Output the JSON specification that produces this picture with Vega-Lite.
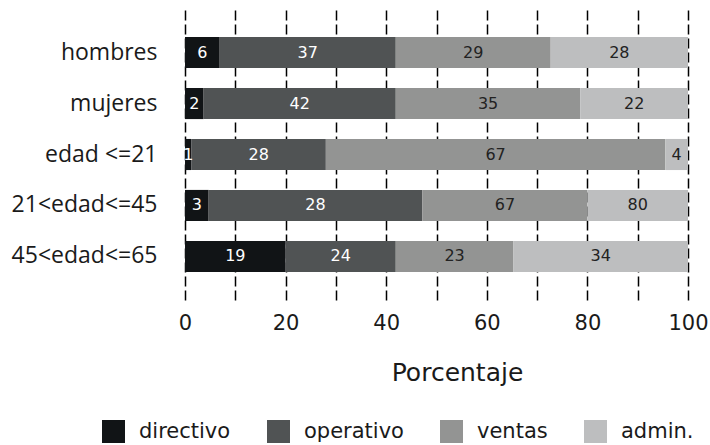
{
  "$schema": "https://vega.github.io/schema/vega-lite/v6.json",
  "autosize": {"type": "none"},
  "width": 503,
  "height": 291,
  "padding": {"left": 185, "top": 9, "right": 22, "bottom": 145},
  "background": "white",
  "config": {
    "view": {"stroke": null},
    "font": "DejaVu Sans",
    "text": {"font": "DejaVu Sans"}
  },
  "data": {
    "values": [
      {"group": "hombres", "cat": "directivo", "pct": 6.9, "label": "6"},
      {"group": "hombres", "cat": "operativo", "pct": 35.0, "label": "37"},
      {"group": "hombres", "cat": "ventas", "pct": 30.8, "label": "29"},
      {"group": "hombres", "cat": "admin.", "pct": 27.3, "label": "28"},
      {"group": "mujeres", "cat": "directivo", "pct": 3.7, "label": "2"},
      {"group": "mujeres", "cat": "operativo", "pct": 38.2, "label": "42"},
      {"group": "mujeres", "cat": "ventas", "pct": 36.7, "label": "35"},
      {"group": "mujeres", "cat": "admin.", "pct": 21.4, "label": "22"},
      {"group": "edad <=21", "cat": "directivo", "pct": 1.3, "label": "1"},
      {"group": "edad <=21", "cat": "operativo", "pct": 26.7, "label": "28"},
      {"group": "edad <=21", "cat": "ventas", "pct": 67.5, "label": "67"},
      {"group": "edad <=21", "cat": "admin.", "pct": 4.5, "label": "4"},
      {"group": "21<edad<=45", "cat": "directivo", "pct": 4.7, "label": "3"},
      {"group": "21<edad<=45", "cat": "operativo", "pct": 42.5, "label": "28"},
      {"group": "21<edad<=45", "cat": "ventas", "pct": 32.8, "label": "67"},
      {"group": "21<edad<=45", "cat": "admin.", "pct": 20.0, "label": "80"},
      {"group": "45<edad<=65", "cat": "directivo", "pct": 20.0, "label": "19"},
      {"group": "45<edad<=65", "cat": "operativo", "pct": 21.9, "label": "24"},
      {"group": "45<edad<=65", "cat": "ventas", "pct": 23.4, "label": "23"},
      {"group": "45<edad<=65", "cat": "admin.", "pct": 34.7, "label": "34"}
    ]
  },
  "transform": [
    {"calculate": "indexof(['directivo','operativo','ventas','admin.'], datum.cat)", "as": "ord"},
    {"stack": "pct", "groupby": ["group"], "sort": [{"field": "ord", "order": "ascending"}], "as": ["x0", "x1"]},
    {"calculate": "(datum.x0 + datum.x1) / 2", "as": "mid"}
  ],
  "encoding": {
    "y": {
      "field": "group",
      "type": "nominal",
      "sort": ["hombres", "mujeres", "edad <=21", "21<edad<=45", "45<edad<=65"],
      "scale": {"paddingInner": 0.39, "paddingOuter": 0.55},
      "axis": {
        "title": null,
        "domain": false,
        "ticks": false,
        "labelPadding": 28,
        "labelFontSize": 23,
        "labelColor": "#1a1a1a",
        "labelFont": "Open Sans",
        "labelLimit": 300
      }
    }
  },
  "layer": [
    {
      "mark": {"type": "bar"},
      "encoding": {
        "x": {
          "field": "x0",
          "type": "quantitative",
          "scale": {"domain": [0, 100], "nice": false},
          "axis": {
            "values": [0, 10, 20, 30, 40, 50, 60, 70, 80, 90, 100],
            "labelExpr": "datum.value % 20 === 0 ? datum.label : ''",
            "grid": true,
            "gridDash": [10, 4],
            "gridColor": "#000000",
            "gridWidth": 1.5,
            "gridOpacity": 1,
            "domain": false,
            "ticks": false,
            "labelPadding": 12,
            "labelFontSize": 21,
            "labelColor": "#1a1a1a",
            "labelFont": "DejaVu Sans",
            "labelFlush": false,
            "title": "Porcentaje",
            "titleFont": "DejaVu Sans",
            "titleFontSize": 25,
            "titleFontWeight": "normal",
            "titleColor": "#1a1a1a",
            "titleX": 272,
            "titleY": 80,
            "titleAlign": "center",
            "titleBaseline": "alphabetic"
          }
        },
        "x2": {"field": "x1"},
        "color": {
          "field": "cat",
          "type": "nominal",
          "scale": {
            "domain": ["directivo", "operativo", "ventas", "admin."],
            "range": ["#111416", "#505354", "#939493", "#BDBEBF"]
          },
          "legend": {
            "title": null,
            "orient": "none",
            "direction": "horizontal",
            "legendX": -83,
            "legendY": 411,
            "symbolType": "square",
            "symbolSize": 529,
            "symbolStrokeWidth": 0,
            "symbolOpacity": 1,
            "labelFontSize": 21,
            "labelFont": "DejaVu Sans",
            "labelColor": "#1a1a1a",
            "labelOffset": 14,
            "columnPadding": 36
          }
        }
      }
    },
    {
      "mark": {"type": "text", "fontSize": 16, "font": "DejaVu Sans", "align": "center", "baseline": "middle"},
      "encoding": {
        "x": {"field": "mid", "type": "quantitative"},
        "text": {"field": "label", "type": "nominal"},
        "color": {
          "condition": {"test": "datum.ord < 2", "value": "#ffffff"},
          "value": "#222222"
        }
      }
    }
  ]
}
